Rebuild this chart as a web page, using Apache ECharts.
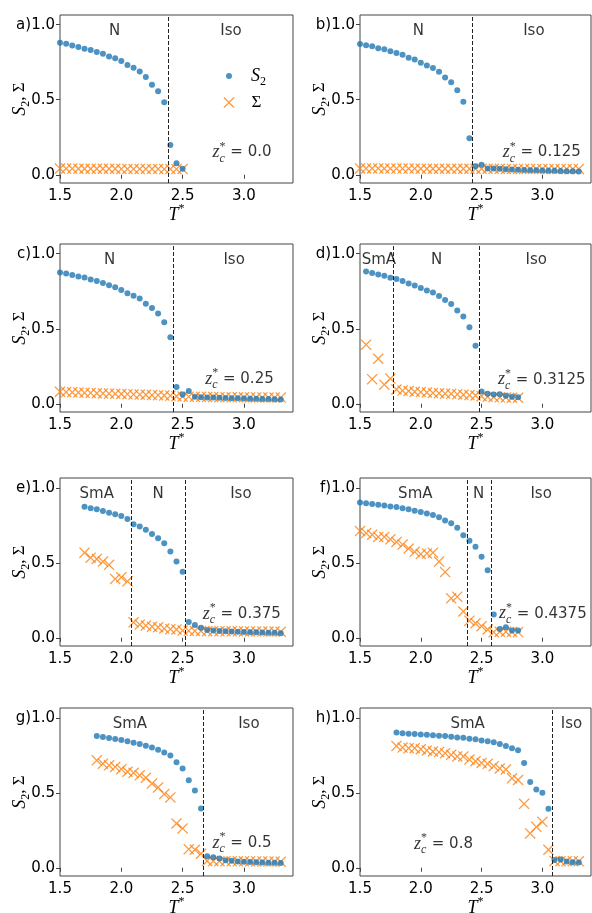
<!DOCTYPE html>
<html>
<head>
<meta charset="utf-8">
<script src="https://cdn.jsdelivr.net/npm/echarts@6/dist/echarts.min.js"></script>
<style>
  html, body { margin: 0; padding: 0; background: #fff; }
  #chart { width: 592px; height: 913px; }
</style>
</head>
<body>
<div id="chart"></div>
<script>
/* ---------------------------- data ---------------------------- */
var tGrid = [1.50, 1.55, 1.60, 1.65, 1.70, 1.75, 1.80, 1.85, 1.90, 1.95, 2.00, 2.05, 2.10,
  2.15, 2.20, 2.25, 2.30, 2.35, 2.40, 2.45, 2.50, 2.55, 2.60, 2.65, 2.70, 2.75, 2.80, 2.85,
  2.90, 2.95, 3.00, 3.05, 3.10, 3.15, 3.20, 3.25, 3.30];
var xTicks = [1.5, 2.0, 2.5, 3.0];
var yTicks = [0.0, 0.5, 1.0];
var panelLetters = ['a)', 'b)', 'c)', 'd)', 'e)', 'f)', 'g)', 'h)'];
var zcValues = ['0.0', '0.125', '0.25', '0.3125', '0.375', '0.4375', '0.5', '0.8'];

// a) zc = 0.0
var startA = 1.50;
var s2A = [0.880, 0.873, 0.862, 0.851, 0.840, 0.831, 0.818, 0.807, 0.789, 0.776, 0.758, 0.731,
  0.713, 0.689, 0.651, 0.600, 0.557, 0.484, 0.198, 0.077, 0.040];
var sigA = [0.041, 0.041, 0.041, 0.040, 0.040, 0.040, 0.040, 0.040, 0.040, 0.040, 0.039, 0.039,
  0.039, 0.039, 0.039, 0.039, 0.039, 0.038, 0.038, 0.038, 0.038];
var transA = [2.375];
var phasesA = ['N', 'Iso'];

// b) zc = 0.125
var startB = 1.50;
var s2B = [0.871, 0.864, 0.856, 0.844, 0.836, 0.824, 0.811, 0.800, 0.780, 0.769, 0.747, 0.729,
  0.711, 0.687, 0.649, 0.616, 0.564, 0.487, 0.244, 0.056, 0.067, 0.042, 0.042, 0.040, 0.036,
  0.035, 0.033, 0.032, 0.030, 0.030, 0.028, 0.027, 0.026, 0.025, 0.024, 0.023, 0.022];
var sigB = [0.042, 0.042, 0.042, 0.042, 0.041, 0.041, 0.041, 0.041, 0.041, 0.041, 0.040, 0.040,
  0.040, 0.040, 0.040, 0.040, 0.040, 0.040, 0.040, 0.040, 0.040, 0.040, 0.040, 0.040, 0.039,
  0.039, 0.039, 0.039, 0.039, 0.039, 0.039, 0.039, 0.039, 0.039, 0.039, 0.039, 0.039];
var transB = [2.425];
var phasesB = ['N', 'Iso'];

// c) zc = 0.25
var startC = 1.50;
var s2C = [0.875, 0.869, 0.858, 0.849, 0.842, 0.829, 0.818, 0.805, 0.790, 0.777, 0.759, 0.737,
  0.720, 0.702, 0.667, 0.639, 0.602, 0.543, 0.444, 0.112, 0.061, 0.085, 0.046, 0.044, 0.042,
  0.041, 0.040, 0.039, 0.037, 0.036, 0.035, 0.034, 0.033, 0.032, 0.031, 0.030, 0.028];
var sigC = [0.080, 0.078, 0.076, 0.075, 0.073, 0.072, 0.070, 0.069, 0.068, 0.066, 0.065, 0.064,
  0.062, 0.061, 0.060, 0.058, 0.057, 0.055, 0.054, 0.050, 0.048, 0.047, 0.046, 0.046, 0.045,
  0.045, 0.044, 0.044, 0.043, 0.043, 0.043, 0.042, 0.042, 0.042, 0.041, 0.041, 0.041];
var transC = [2.425];
var phasesC = ['N', 'Iso'];

// d) zc = 0.3125
var startD = 1.55;
var s2D = [0.882, 0.871, 0.862, 0.853, 0.840, 0.831, 0.818, 0.801, 0.788, 0.772, 0.755, 0.742,
  0.718, 0.691, 0.665, 0.621, 0.582, 0.510, 0.387, 0.081, 0.066, 0.061, 0.063, 0.053, 0.046, 0.044];
var sigD = [0.394, 0.164, 0.300, 0.127, 0.168, 0.095, 0.088, 0.085, 0.080, 0.078, 0.075, 0.072,
  0.070, 0.068, 0.066, 0.063, 0.060, 0.058, 0.055, 0.050, 0.046, 0.045, 0.043, 0.042, 0.040, 0.040];
var transD = [1.775, 2.475];
var phasesD = ['SmA', 'N', 'Iso'];

// e) zc = 0.375
var startE = 1.70;
var s2E = [0.873, 0.864, 0.856, 0.845, 0.834, 0.823, 0.812, 0.792, 0.757, 0.742, 0.720, 0.691,
  0.663, 0.630, 0.575, 0.508, 0.440, 0.105, 0.085, 0.066, 0.052, 0.048, 0.045, 0.043, 0.041,
  0.040, 0.038, 0.037, 0.036, 0.035, 0.034, 0.033, 0.030];
var sigE = [0.567, 0.534, 0.525, 0.508, 0.486, 0.392, 0.403, 0.376, 0.103, 0.088, 0.081, 0.074,
  0.070, 0.061, 0.057, 0.055, 0.048, 0.046, 0.045, 0.045, 0.044, 0.044, 0.044, 0.043, 0.043,
  0.043, 0.042, 0.042, 0.042, 0.041, 0.041, 0.041, 0.040];
var transE = [2.075, 2.525];
var phasesE = ['SmA', 'N', 'Iso'];

// f) zc = 0.4375
var startF = 1.50;
var s2F = [0.902, 0.897, 0.892, 0.886, 0.882, 0.875, 0.871, 0.864, 0.856, 0.847, 0.838, 0.829,
  0.818, 0.803, 0.781, 0.763, 0.733, 0.683, 0.646, 0.606, 0.540, 0.450, 0.155, 0.059, 0.070,
  0.048, 0.048];
var sigF = [0.711, 0.698, 0.687, 0.672, 0.672, 0.656, 0.639, 0.621, 0.595, 0.573, 0.558, 0.562,
  0.567, 0.508, 0.438, 0.263, 0.274, 0.175, 0.114, 0.096, 0.077, 0.055, 0.037, 0.040, 0.040,
  0.039, 0.038];
var transF = [2.375, 2.575];
var phasesF = ['SmA', 'N', 'Iso'];

// g) zc = 0.5
var startG = 1.80;
var s2G = [0.878, 0.871, 0.865, 0.858, 0.852, 0.843, 0.834, 0.825, 0.814, 0.801, 0.786, 0.769,
  0.749, 0.703, 0.662, 0.583, 0.515, 0.395, 0.076, 0.070, 0.061, 0.050, 0.046, 0.042, 0.040,
  0.038, 0.036, 0.035, 0.034, 0.033, 0.032];
var sigG = [0.716, 0.694, 0.683, 0.672, 0.657, 0.640, 0.633, 0.616, 0.600, 0.561, 0.535, 0.491,
  0.469, 0.295, 0.262, 0.124, 0.120, 0.094, 0.045, 0.045, 0.044, 0.044, 0.043, 0.043, 0.043,
  0.042, 0.042, 0.042, 0.041, 0.041, 0.040];
var transG = [2.675];
var phasesG = ['SmA', 'Iso'];

// h) zc = 0.8
var startH = 1.80;
var s2H = [0.902, 0.897, 0.893, 0.891, 0.889, 0.886, 0.884, 0.880, 0.878, 0.873, 0.869, 0.867,
  0.860, 0.856, 0.849, 0.843, 0.836, 0.825, 0.812, 0.797, 0.784, 0.699, 0.572, 0.522, 0.500,
  0.393, 0.052, 0.055, 0.041, 0.037, 0.035];
var sigH = [0.812, 0.801, 0.797, 0.797, 0.790, 0.782, 0.775, 0.771, 0.764, 0.753, 0.742, 0.742,
  0.721, 0.710, 0.699, 0.693, 0.677, 0.662, 0.655, 0.596, 0.585, 0.426, 0.229, 0.273, 0.306,
  0.120, 0.045, 0.044, 0.044, 0.043, 0.043];
var transH = [3.075];
var phasesH = ['SmA', 'Iso'];

/* ---------------------------- layout ---------------------------- */
var rowTops = [15, 244, 478, 708];
var phaseX = [[1.946, 2.895], [1.98, 2.93], [1.905, 2.92], [1.655, 2.13, 2.95],
  [1.80, 2.30, 2.975], [1.955, 2.475, 2.99], [2.07, 3.04], [2.385, 3.24]];
var phaseY = 0.955;
var zcPos = [[2.74, 0.148], [2.67, 0.148], [2.68, 0.163], [2.63, 0.16],
  [2.66, 0.158], [2.64, 0.16], [2.74, 0.165], [1.94, 0.158]];

var BLUE = '#1f77b4';
var ORANGE = '#ff7f0e';
var SANS = 'DejaVu Sans';
var SERIF = 'Liberation Serif';
var crossPath = 'path://M8,0L50,42L92,0L100,8L58,50L100,92L92,100L50,58L8,100L0,92L42,50L0,8Z';

var mathRich = {
  i: { fontFamily: SERIF, fontStyle: 'italic', fontSize: 18, lineHeight: 24, color: '#000' },
  sub: { fontFamily: SERIF, fontSize: 12, lineHeight: 12, verticalAlign: 'bottom', color: '#000' },
  sup: { fontFamily: SERIF, fontSize: 12, lineHeight: 12, verticalAlign: 'top', color: '#000' },
  r: { fontFamily: SERIF, fontSize: 17, lineHeight: 24, color: '#000' },
  n: { fontFamily: SANS, fontSize: 15, lineHeight: 24, color: '#000' }
};

var panels = [
  { start: startA, s2: s2A, sig: sigA, trans: transA, phases: phasesA },
  { start: startB, s2: s2B, sig: sigB, trans: transB, phases: phasesB },
  { start: startC, s2: s2C, sig: sigC, trans: transC, phases: phasesC },
  { start: startD, s2: s2D, sig: sigD, trans: transD, phases: phasesD },
  { start: startE, s2: s2E, sig: sigE, trans: transE, phases: phasesE },
  { start: startF, s2: s2F, sig: sigF, trans: transF, phases: phasesF },
  { start: startG, s2: s2G, sig: sigG, trans: transG, phases: phasesG },
  { start: startH, s2: s2H, sig: sigH, trans: transH, phases: phasesH }
];

function pairUp(start, vals) {
  var i0 = tGrid.indexOf(start);
  return vals.map(function (v, k) { return [tGrid[i0 + k], v]; });
}

var chart = echarts.init(document.getElementById('chart'));
var grids = [], xAxes = [], yAxes = [], series = [];

panels.forEach(function (p, idx) {
  var col = idx % 2, row = Math.floor(idx / 2);
  grids.push({
    left: col ? 360 : 60, width: col ? 231 : 233, top: rowTops[row], height: 168,
    show: true, borderColor: '#444', borderWidth: 1, containLabel: false, outerBoundsMode: 'none'
  });
  xAxes.push({
    gridIndex: idx, type: 'value', min: 1.5, max: 3.4,
    name: '{i|T}{sup|*}', nameLocation: 'middle', nameGap: 20, nameMoveOverlap: false,
    nameTextStyle: { rich: mathRich },
    axisLine: { show: false }, splitLine: { show: false },
    axisTick: { show: true, length: 4, customValues: xTicks, lineStyle: { color: '#444' } },
    axisLabel: {
      customValues: xTicks, margin: 6, color: '#000', fontSize: 15, fontFamily: SANS,
      formatter: function (v) { return v.toFixed(1); }
    }
  });
  yAxes.push({
    gridIndex: idx, type: 'value', min: -0.055, max: 1.065,
    name: '{i|S}{sub|2}{r|, Σ}', nameLocation: 'middle', nameGap: 28, nameMoveOverlap: false,
    nameTextStyle: { rich: mathRich },
    axisLine: { show: false }, splitLine: { show: false },
    axisTick: { show: true, length: 4, customValues: yTicks, lineStyle: { color: '#444' } },
    axisLabel: {
      customValues: yTicks, margin: 5, color: '#000', fontSize: 15, fontFamily: SANS,
      formatter: function (v) { return (v === 1 ? panelLetters[idx] : '') + v.toFixed(1); }
    }
  });

  series.push({
    name: 'Sigma', type: 'scatter', xAxisIndex: idx, yAxisIndex: idx,
    symbol: crossPath, symbolSize: 11, itemStyle: { color: ORANGE }, z: 2, silent: true,
    data: pairUp(p.start, p.sig),
    markLine: {
      silent: true, symbol: ['none', 'none'], label: { show: false },
      lineStyle: { color: '#222', type: [4, 2], width: 1 },
      data: p.trans.map(function (x) { return { xAxis: x }; })
    }
  });
  series.push({
    name: 'S2', type: 'scatter', xAxisIndex: idx, yAxisIndex: idx,
    symbol: 'circle', symbolSize: 6, itemStyle: { color: BLUE }, z: 3, silent: true,
    data: pairUp(p.start, p.s2)
  });

  // phase names and z_c label
  var texts = p.phases.map(function (name, k) {
    return {
      value: [phaseX[idx][k], phaseY],
      label: { position: 'inside', formatter: name, fontFamily: SANS, fontSize: 15, color: '#000' }
    };
  });
  texts.push({
    value: zcPos[idx],
    label: {
      position: 'right', distance: 0,
      formatter: '{i|z}{c|c}{sup|*}{n| = ' + zcValues[idx] + '}',
      rich: {
        i: mathRich.i,
        c: { fontFamily: SERIF, fontStyle: 'italic', fontSize: 12, lineHeight: 12, verticalAlign: 'bottom', width: 0, color: '#000' },
        sup: mathRich.sup,
        n: mathRich.n
      }
    }
  });
  series.push({
    name: 'notes', type: 'scatter', xAxisIndex: idx, yAxisIndex: idx,
    symbolSize: 1, itemStyle: { color: 'rgba(0,0,0,0)' }, z: 5, silent: true,
    label: { show: true },
    data: texts
  });
});

var option = {
  animation: false,
  backgroundColor: '#fff',
  grid: grids,
  xAxis: xAxes,
  yAxis: yAxes,
  legend: [{
    data: [{ name: 'S2', icon: 'circle' }],
    left: 226, top: 67, padding: 0, itemWidth: 6, itemHeight: 6,
    selectedMode: false,
    formatter: function () { return '{i|S}{sub|2}'; },
    textStyle: { padding: [0, 0, 0, 14], rich: mathRich }
  }, {
    data: [{ name: 'Sigma', icon: crossPath }],
    left: 223.5, top: 94, padding: 0, itemWidth: 11, itemHeight: 11,
    selectedMode: false,
    formatter: function () { return '{r|Σ}'; },
    textStyle: { padding: [0, 0, 0, 12], rich: mathRich }
  }],
  series: series
};

chart.setOption(option);
</script>
</body>
</html>
